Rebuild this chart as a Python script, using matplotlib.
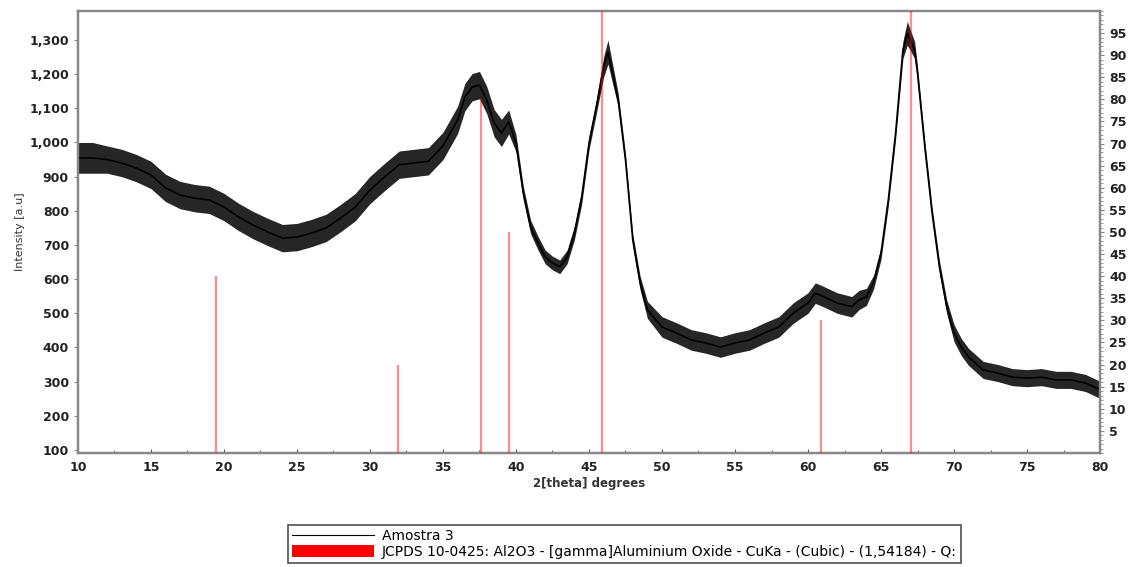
import matplotlib
matplotlib.use("Agg")
import matplotlib.pyplot as plt
from matplotlib.lines import Line2D
from matplotlib.patches import Patch
from matplotlib.ticker import FuncFormatter, MultipleLocator

# ---- data ----
two_theta = [10, 11, 12, 13, 14, 15, 16, 17, 18, 19, 20, 21, 22, 23, 24, 25, 26, 27, 28, 29,
             30, 31, 32, 33, 34, 35, 36,
             36.5, 37, 37.5, 38, 38.5, 39, 39.5, 40, 40.5, 41, 41.5, 42, 42.5, 43, 43.5, 44,
             44.5, 45, 45.5, 46,
             46.3, 47, 47.5, 48, 48.5, 49,
             50, 51, 52, 53, 54, 55, 56, 57, 58, 59, 60,
             60.5, 61, 62, 63,
             63.5, 64, 64.5, 65, 65.5, 66, 66.5, 66.8, 67, 67.3, 67.5, 68, 68.5, 69, 69.5,
             70, 70.5, 71,
             72, 73, 74, 75, 76, 77, 78, 79, 80]
intensity = [955, 955, 950, 940, 925, 905, 867, 846, 837, 832, 811, 782, 758, 738, 720, 723,
             735, 750, 779, 811, 861, 899, 935, 940, 945, 990, 1066,
             1133, 1162, 1168, 1124, 1057, 1028, 1060, 998, 852, 753, 706, 665, 647, 636, 665,
             735, 840, 998, 1104, 1221,
             1265, 1124, 949, 714, 589, 510,
             460, 442, 422, 413, 401, 413, 422, 442, 460, 501, 530,
             559, 550, 530, 519,
             539, 548, 592, 676, 832, 1028, 1271, 1320, 1300, 1271, 1203, 987, 793, 636, 519,
             442, 401, 372,
             334, 325, 313, 310, 313, 305, 305, 296, 276]
noise_spread = [45, 45, 40, 40, 40, 40, 40, 40, 40, 40, 40, 40, 40, 40, 40, 40, 40, 40, 40, 40,
                40, 40, 40, 40, 40, 40, 40,
                40, 40, 40, 40, 40, 40, 35, 25, 20, 20, 20, 20, 20, 20, 20, 20,
                20, 20, 20, 30,
                35, 20, 18, 18, 20, 25,
                30, 30, 30, 30, 30, 30, 30, 30, 30, 30, 30,
                30, 30, 30, 30,
                28, 25, 20, 18, 18, 18, 25, 35, 30, 25, 20, 18, 18, 18, 20,
                25, 25, 25,
                25, 25, 25, 25, 25, 25, 25, 25, 25]

ref_positions = [19.45, 31.94, 37.60, 39.49, 45.86, 60.90, 67.03]
ref_rel_intensity = [40, 20, 80, 50, 100, 30, 100]

left_ticks = [100, 200, 300, 400, 500, 600, 700, 800, 900, 1000, 1100, 1200, 1300]
right_ticks = [5, 10, 15, 20, 25, 30, 35, 40, 45, 50, 55, 60, 65, 70, 75, 80, 85, 90, 95]
x_ticks = [10, 15, 20, 25, 30, 35, 40, 45, 50, 55, 60, 65, 70, 75, 80]

series_label = "Amostra 3"
ref_label = ("JCPDS 10-0425: Al2O3 - [gamma]Aluminium Oxide - CuKa - (Cubic) - "
             "(1,54184) - Q:")

# ---- figure ----
fig = plt.figure(figsize=(11.33, 5.67), dpi=100)
ax = fig.add_axes([0.0688, 0.2011, 0.9021, 0.7795])
ax2 = ax.twinx()

lower = [c - s for c, s in zip(intensity, noise_spread)]
upper = [c + s for c, s in zip(intensity, noise_spread)]
ax.fill_between(two_theta, lower, upper, color="black", alpha=0.85, lw=0, zorder=2)
ax.plot(two_theta, intensity, color="black", lw=1.2, zorder=3)

ax2.vlines(ref_positions, 0, ref_rel_intensity, color="red", alpha=0.45, lw=1.6, zorder=5)

ax.set_xlim(10, 80)
ax.set_ylim(91, 1385)
ax2.set_ylim(0, 100)

ax.set_xticks(x_ticks)
ax.xaxis.set_minor_locator(MultipleLocator(2.5))
ax.set_yticks(left_ticks)
ax.yaxis.set_major_formatter(FuncFormatter(lambda v, p: f"{int(v):,}"))
ax2.set_yticks(right_ticks)
ax2.yaxis.set_minor_locator(MultipleLocator(1))

ax.tick_params(axis="x", direction="in", length=3, labelsize=9, pad=6, colors="#555555",
               labelcolor="#222222")
ax.tick_params(axis="x", which="minor", direction="in", length=2, colors="#555555")
ax.tick_params(axis="y", direction="out", length=3, labelsize=9, colors="#888888",
               labelcolor="#222222")
ax2.tick_params(axis="y", direction="out", length=3, labelsize=9, colors="#888888",
                labelcolor="#222222")
ax2.tick_params(axis="y", which="minor", direction="out", length=2, colors="#888888")
for lab in ax.get_xticklabels() + ax.get_yticklabels() + ax2.get_yticklabels():
    lab.set_fontweight("bold")

for a in (ax, ax2):
    for sp in a.spines.values():
        sp.set_color("#888888")
        sp.set_linewidth(1.6)
ax.spines["bottom"].set_color("#555555")

ax.set_xlabel("2[theta] degrees", fontsize=8.5, fontweight="bold", color="#333333", labelpad=2)
ax.set_ylabel("Intensity [a.u]", fontsize=8, color="#333333", labelpad=3)

handles = [Line2D([0], [0], color="black", lw=0.8),
           Patch(facecolor="red", edgecolor="none")]
leg = fig.legend(handles, [series_label, ref_label], loc="lower center",
                 bbox_to_anchor=(0.551, 0.0), fontsize=10, frameon=True, fancybox=False,
                 handlelength=5.9, handleheight=0.95, handletextpad=0.55, labelspacing=0.1,
                 borderpad=0.3, borderaxespad=0.3, edgecolor="#222222")
leg.get_frame().set_linewidth(1.2)

fig.savefig("out.png", dpi=100)
